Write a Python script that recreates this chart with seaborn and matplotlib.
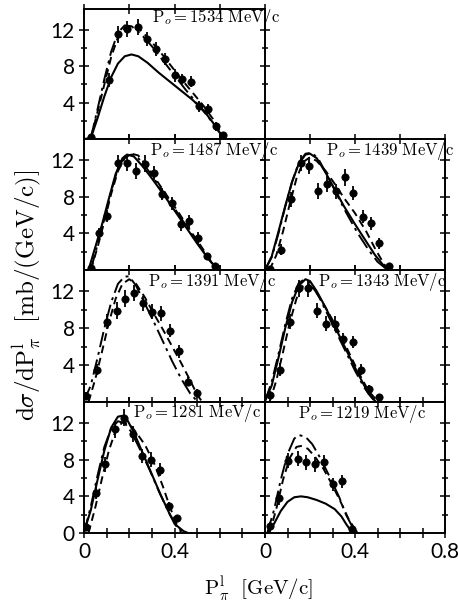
import numpy as np
import matplotlib
matplotlib.use("Agg")
import matplotlib.pyplot as plt
import seaborn as sns

sns.set_theme(style="white")
plt.rcParams["font.family"] = ["Lato", "DejaVu Sans"]
plt.rcParams["mathtext.fontset"] = "cm"

# Beam momentum of each panel (MeV/c)
momenta = [1534, 1487, 1439, 1391, 1343, 1281, 1219]

# Measured spectra: pion momentum (GeV/c), dsigma/dP (mb/(GeV/c)), error
data_x_1534 = [0.03, 0.11, 0.15, 0.19, 0.24, 0.28, 0.32, 0.36, 0.40, 0.435, 0.475, 0.51, 0.55, 0.585, 0.615]
data_y_1534 = [0.2, 6.5, 11.5, 12.1, 12.3, 11.0, 9.9, 8.8, 7.0, 6.6, 6.3, 3.6, 3.3, 1.4, 0.4]
data_e_1534 = [0.3, 0.8, 0.9, 0.9, 0.9, 0.8, 0.8, 0.7, 0.7, 0.6, 0.6, 0.6, 0.6, 0.5, 0.4]

data_x_1487 = [0.03, 0.068, 0.10, 0.152, 0.19, 0.23, 0.27, 0.308, 0.345, 0.39, 0.427, 0.463, 0.503, 0.545, 0.58]
data_y_1487 = [0.2, 4.0, 5.9, 11.7, 11.7, 10.8, 11.6, 10.6, 8.3, 7.3, 5.0, 5.3, 3.5, 1.5, 0.45]
data_e_1487 = [0.3, 0.6, 0.7, 0.9, 0.9, 0.9, 0.9, 0.8, 0.7, 0.7, 0.7, 0.7, 0.6, 0.4, 0.3]

data_x_1439 = [0.02, 0.071, 0.116, 0.16, 0.197, 0.234, 0.274, 0.316, 0.356, 0.393, 0.434, 0.471, 0.508, 0.55]
data_y_1439 = [0.1, 2.2, 7.7, 11.7, 11.4, 8.6, 9.4, 8.6, 10.1, 8.4, 5.8, 5.1, 2.9, 0.45]
data_e_1439 = [0.3, 0.6, 0.8, 0.9, 0.9, 0.9, 0.9, 0.8, 0.9, 0.8, 0.7, 0.7, 0.6, 0.3]

data_x_1391 = [0.01, 0.056, 0.10, 0.145, 0.182, 0.222, 0.26, 0.30, 0.34, 0.38, 0.42, 0.46, 0.50]
data_y_1391 = [0.66, 3.5, 8.7, 9.9, 11.2, 11.8, 10.7, 9.8, 9.6, 7.7, 5.5, 2.2, 1.0]
data_e_1391 = [0.4, 0.6, 0.8, 0.9, 0.9, 0.9, 0.8, 0.8, 0.8, 0.7, 0.7, 0.5, 0.4]

data_x_1343 = [0.02, 0.067, 0.111, 0.15, 0.19, 0.23, 0.271, 0.311, 0.348, 0.39, 0.427, 0.464, 0.505]
data_y_1343 = [0.77, 3.5, 8.7, 12.3, 12.3, 9.9, 8.5, 8.5, 6.8, 6.5, 3.5, 1.4, 0.5]
data_e_1343 = [0.4, 0.7, 0.8, 0.9, 0.9, 0.8, 0.8, 0.8, 0.7, 0.7, 0.6, 0.4, 0.3]

data_x_1281 = [0.01, 0.053, 0.093, 0.135, 0.175, 0.216, 0.256, 0.296, 0.335, 0.375, 0.412]
data_y_1281 = [0.7, 4.4, 7.5, 11.3, 12.6, 10.8, 8.4, 8.0, 6.9, 2.9, 1.6]
data_e_1281 = [0.4, 0.7, 0.8, 0.9, 0.9, 0.9, 0.8, 0.8, 0.7, 0.5, 0.4]

data_x_1219 = [0.02, 0.06, 0.10, 0.145, 0.182, 0.224, 0.264, 0.304, 0.342, 0.385]
data_y_1219 = [0.77, 3.8, 7.9, 8.1, 7.7, 7.5, 7.7, 5.3, 5.65, 0.4]
data_e_1219 = [0.4, 0.7, 0.8, 0.8, 0.8, 0.8, 0.8, 0.7, 0.7, 0.3]

# Model curves: solid, dashed and dash-dot
solid_x_1534 = [0.0, 0.03, 0.06, 0.09, 0.12, 0.15, 0.18, 0.21, 0.24, 0.28, 0.33, 0.38, 0.43, 0.48, 0.53, 0.57, 0.60, 0.62]
solid_y_1534 = [0.0, 0.1, 2.3, 4.7, 6.8, 8.3, 9.1, 9.3, 9.1, 8.4, 7.3, 6.3, 5.3, 4.3, 3.1, 1.8, 0.7, 0.1]
dash_x_1534 = [0.03, 0.06, 0.09, 0.12, 0.15, 0.18, 0.21, 0.24, 0.28, 0.33, 0.38, 0.43, 0.48, 0.53, 0.57, 0.60, 0.62]
dash_y_1534 = [0.1, 3.0, 6.0, 9.0, 11.2, 12.2, 12.4, 12.2, 11.2, 9.8, 8.2, 6.6, 5.1, 3.6, 2.2, 0.9, 0.1]
dashdot_x_1534 = [0.03, 0.06, 0.09, 0.12, 0.15, 0.18, 0.21, 0.25, 0.30, 0.35, 0.40, 0.45, 0.50, 0.55, 0.59, 0.62]
dashdot_y_1534 = [0.1, 3.3, 6.6, 9.6, 11.7, 12.5, 12.4, 11.6, 10.2, 8.6, 7.0, 5.4, 3.9, 2.4, 1.0, 0.1]

solid_x_1487 = [0.02, 0.05, 0.08, 0.11, 0.14, 0.17, 0.19, 0.22, 0.26, 0.30, 0.35, 0.40, 0.45, 0.50, 0.55, 0.59]
solid_y_1487 = [0.0, 2.5, 5.0, 7.8, 10.5, 12.2, 12.6, 12.4, 11.3, 10.0, 8.3, 6.5, 4.7, 2.9, 1.2, 0.1]
dash_x_1487 = [0.03, 0.06, 0.09, 0.12, 0.15, 0.18, 0.21, 0.24, 0.28, 0.32, 0.37, 0.42, 0.47, 0.52, 0.56, 0.59]
dash_y_1487 = [0.0, 2.5, 5.3, 8.3, 10.8, 12.2, 12.7, 12.5, 11.3, 9.8, 8.0, 6.2, 4.3, 2.5, 1.0, 0.1]
dashdot_x_1487 = [0.03, 0.06, 0.09, 0.12, 0.15, 0.18, 0.21, 0.24, 0.28, 0.32, 0.37, 0.42, 0.47, 0.52, 0.56, 0.59]
dashdot_y_1487 = [0.0, 2.8, 5.6, 8.6, 11.1, 12.4, 12.6, 12.2, 11.0, 9.6, 7.8, 6.0, 4.1, 2.3, 0.9, 0.1]

solid_x_1439 = [0.0, 0.03, 0.06, 0.09, 0.12, 0.15, 0.18, 0.20, 0.23, 0.27, 0.31, 0.35, 0.40, 0.45, 0.49, 0.53, 0.55]
solid_y_1439 = [0.0, 1.5, 4.2, 7.0, 9.6, 11.6, 12.6, 12.7, 12.2, 10.6, 8.8, 7.0, 5.0, 3.1, 1.6, 0.4, 0.1]
dash_x_1439 = [0.02, 0.05, 0.08, 0.11, 0.14, 0.17, 0.20, 0.23, 0.27, 0.31, 0.35, 0.40, 0.45, 0.49, 0.53, 0.55]
dash_y_1439 = [0.0, 1.6, 4.2, 7.2, 10.0, 11.8, 12.3, 11.9, 10.8, 9.4, 7.9, 6.2, 4.2, 2.3, 0.6, 0.1]
dashdot_x_1439 = [0.0, 0.03, 0.06, 0.09, 0.12, 0.15, 0.18, 0.21, 0.24, 0.28, 0.32, 0.36, 0.41, 0.46, 0.50, 0.54]
dashdot_y_1439 = [0.0, 1.4, 4.0, 6.9, 9.6, 11.7, 12.7, 12.8, 12.0, 10.2, 8.2, 6.3, 4.1, 2.2, 0.9, 0.1]

# the 1391 MeV/c panel shows only the dashed and dash-dot models
solid_x_1391 = []
solid_y_1391 = []
dash_x_1391 = [0.02, 0.05, 0.08, 0.11, 0.14, 0.17, 0.20, 0.23, 0.27, 0.31, 0.35, 0.39, 0.43, 0.47, 0.50, 0.52]
dash_y_1391 = [0.0, 2.5, 5.5, 8.6, 11.2, 12.8, 13.3, 12.8, 11.3, 9.5, 7.8, 6.0, 4.2, 2.3, 0.8, 0.1]
dashdot_x_1391 = [0.0, 0.03, 0.06, 0.09, 0.12, 0.15, 0.18, 0.20, 0.23, 0.27, 0.31, 0.35, 0.39, 0.43, 0.47, 0.50]
dashdot_y_1391 = [0.1, 1.8, 4.8, 8.0, 10.8, 12.8, 13.6, 13.6, 12.6, 10.6, 8.6, 6.5, 4.4, 2.5, 0.9, 0.1]

solid_x_1343 = [0.0, 0.03, 0.06, 0.09, 0.12, 0.15, 0.18, 0.20, 0.23, 0.27, 0.31, 0.35, 0.39, 0.43, 0.46, 0.49]
solid_y_1343 = [0.1, 1.8, 4.8, 8.0, 10.8, 12.6, 13.3, 13.1, 12.0, 10.2, 8.2, 6.2, 4.2, 2.3, 0.9, 0.1]
dash_x_1343 = [0.02, 0.05, 0.08, 0.11, 0.14, 0.17, 0.19, 0.22, 0.26, 0.30, 0.34, 0.38, 0.42, 0.46, 0.50]
dash_y_1343 = [0.0, 2.3, 5.4, 8.6, 11.2, 12.6, 12.8, 12.2, 10.6, 8.9, 7.1, 5.0, 3.0, 1.2, 0.1]
dashdot_x_1343 = [0.0, 0.03, 0.06, 0.09, 0.12, 0.15, 0.17, 0.20, 0.24, 0.28, 0.32, 0.36, 0.40, 0.44, 0.48, 0.50]
dashdot_y_1343 = [0.1, 2.2, 5.2, 8.4, 11.2, 12.9, 13.2, 12.9, 11.4, 9.4, 7.4, 5.4, 3.4, 1.6, 0.3, 0.0]

solid_x_1281 = [0.0, 0.03, 0.06, 0.09, 0.12, 0.15, 0.17, 0.19, 0.22, 0.26, 0.30, 0.34, 0.38, 0.41, 0.44, 0.46]
solid_y_1281 = [0.1, 2.5, 5.8, 9.0, 11.5, 12.7, 12.8, 12.4, 11.0, 8.7, 6.4, 4.1, 2.0, 0.8, 0.2, 0.0]
dash_x_1281 = [0.02, 0.05, 0.08, 0.11, 0.14, 0.17, 0.20, 0.23, 0.27, 0.31, 0.35, 0.38, 0.41, 0.43]
dash_y_1281 = [0.0, 2.8, 6.0, 9.0, 11.2, 12.1, 11.9, 11.0, 9.6, 7.6, 5.0, 2.8, 1.0, 0.2]
dashdot_x_1281 = [0.0, 0.03, 0.06, 0.09, 0.12, 0.15, 0.18, 0.21, 0.25, 0.29, 0.33, 0.37, 0.40, 0.43]
dashdot_y_1281 = [0.0, 2.9, 6.3, 9.4, 11.4, 12.2, 12.0, 11.0, 9.0, 6.9, 4.6, 2.5, 1.0, 0.1]

solid_x_1219 = [0.01, 0.04, 0.07, 0.10, 0.13, 0.16, 0.19, 0.23, 0.27, 0.31, 0.34, 0.36, 0.38, 0.40]
solid_y_1219 = [0.0, 1.0, 2.4, 3.4, 3.9, 4.0, 3.9, 3.6, 3.2, 2.6, 1.8, 1.0, 0.3, 0.0]
dash_x_1219 = [0.02, 0.05, 0.08, 0.11, 0.14, 0.16, 0.19, 0.22, 0.26, 0.30, 0.34, 0.37, 0.40, 0.42]
dash_y_1219 = [0.0, 2.6, 5.8, 8.2, 9.4, 9.5, 9.2, 8.4, 7.0, 5.2, 3.2, 1.6, 0.4, 0.0]
dashdot_x_1219 = [0.01, 0.04, 0.07, 0.10, 0.13, 0.15, 0.18, 0.21, 0.25, 0.29, 0.33, 0.36, 0.39, 0.41]
dashdot_y_1219 = [0.0, 2.5, 5.8, 8.6, 10.3, 10.7, 10.5, 9.7, 8.0, 6.0, 3.9, 2.0, 0.6, 0.1]

x_tick_values = [0.0, 0.1, 0.2, 0.3, 0.4, 0.5, 0.6, 0.7, 0.8]
x_tick_labels_left = ["0", "", "", "", "0.4", "", "", "", ""]
x_tick_labels_right = ["0", "", "", "", "0.4", "", "", "", "0.8"]

panels = [
    (1534, data_x_1534, data_y_1534, data_e_1534, solid_x_1534, solid_y_1534, dash_x_1534, dash_y_1534, dashdot_x_1534, dashdot_y_1534),
    (1487, data_x_1487, data_y_1487, data_e_1487, solid_x_1487, solid_y_1487, dash_x_1487, dash_y_1487, dashdot_x_1487, dashdot_y_1487),
    (1439, data_x_1439, data_y_1439, data_e_1439, solid_x_1439, solid_y_1439, dash_x_1439, dash_y_1439, dashdot_x_1439, dashdot_y_1439),
    (1391, data_x_1391, data_y_1391, data_e_1391, solid_x_1391, solid_y_1391, dash_x_1391, dash_y_1391, dashdot_x_1391, dashdot_y_1391),
    (1343, data_x_1343, data_y_1343, data_e_1343, solid_x_1343, solid_y_1343, dash_x_1343, dash_y_1343, dashdot_x_1343, dashdot_y_1343),
    (1281, data_x_1281, data_y_1281, data_e_1281, solid_x_1281, solid_y_1281, dash_x_1281, dash_y_1281, dashdot_x_1281, dashdot_y_1281),
    (1219, data_x_1219, data_y_1219, data_e_1219, solid_x_1219, solid_y_1219, dash_x_1219, dash_y_1219, dashdot_x_1219, dashdot_y_1219),
]

# grid slot (row, column) of each panel, and where its label starts (pixels)
slots = [(0, 0), (1, 0), (1, 1), (2, 0), (2, 1), (3, 0), (3, 1)]
label_pos = [(152, 18), (150, 151), (326, 151), (148, 282), (318, 282), (133, 413), (298, 414)]

W, H = 458, 603
fig = plt.figure(figsize=(W / 100, H / 100), dpi=100)
fig.patch.set_facecolor("white")

col_edges = [(84, 265), (265, 445)]
row_edges = [(9, 139), (139, 270), (270, 402), (402, 533)]

ink = "black"
dash_style = (0, (4, 2.5))
dashdot_style = (0, (8, 2.5, 1.5, 2.5))

for (p, dx, dy, de, sx, sy, ddx, ddy, dcx, dcy), (r, c), (lx, ly) in zip(panels, slots, label_pos):
    x0, x1 = col_edges[c]
    y0, y1 = row_edges[r]
    ax = fig.add_axes([x0 / W, 1 - y1 / H, (x1 - x0) / W, (y1 - y0) / H])
    ax.set_facecolor("white")

    if len(sx):
        sns.lineplot(x=sx, y=sy, ax=ax, color=ink, lw=1.5, sort=False, estimator=None)
    sns.lineplot(x=ddx, y=ddy, ax=ax, color=ink, lw=1.4, sort=False, estimator=None, linestyle=dash_style)
    sns.lineplot(x=dcx, y=dcy, ax=ax, color=ink, lw=1.4, sort=False, estimator=None, linestyle=dashdot_style)
    ax.errorbar(dx, dy, yerr=de, fmt="none", ecolor=ink, elinewidth=1.3, capsize=0, zorder=3)
    sns.scatterplot(x=dx, y=dy, ax=ax, color=ink, s=28, marker="o", edgecolor=ink, linewidth=0.5, zorder=4)

    ax.set_xlim(0, 0.8)
    ax.set_ylim(0, 14.3)
    ax.set_xlabel("")
    ax.set_ylabel("")

    bottom_row = (r == 3)
    if bottom_row:
        ax.set_xticks(x_tick_values)
        ax.set_xticklabels(x_tick_labels_right if c == 1 else x_tick_labels_left)
    else:
        ax.set_xticks([0.0, 0.2, 0.4, 0.6, 0.8])
        ax.set_xticklabels([])
    if c == 0:
        if bottom_row:
            ax.set_yticks([0, 4, 8, 12])
            ax.set_yticklabels(["0", "4", "8", "12"])
        else:
            ax.set_yticks([4, 8, 12])
            ax.set_yticklabels(["4", "8", "12"])
    else:
        ax.set_yticks([4, 8, 12])
        ax.set_yticklabels([])
    ax.set_yticks([2, 6, 10], minor=True)

    ax.tick_params(which="both", direction="inout", top=True, right=True,
                   bottom=True, left=True, color=ink, width=1.1)
    ax.tick_params(which="major", length=7, labelsize=15, labelcolor=ink, pad=3)
    ax.tick_params(which="minor", length=4)
    for sp in ax.spines.values():
        sp.set_color(ink)
        sp.set_linewidth(1.4)

    fig.text(lx / W, 1 - ly / H, r"$\mathrm{P}_{o} = 1534\ \mathrm{MeV/c}$".replace("1534", str(p)),
             fontsize=12, color=ink, ha="left", va="center")

fig.text(27 / W, 1 - 295 / H,
         r"$\mathrm{d}\sigma/\mathrm{dP}_{\pi}^{\mathrm{l}}\ \ [\mathrm{mb/(GeV/c)}]$",
         rotation=90, fontsize=18, color=ink, ha="center", va="center")
fig.text(258 / W, 1 - 589 / H, r"$\mathrm{P}_{\pi}^{\mathrm{l}}\ \ [\mathrm{GeV/c}]$",
         fontsize=15, color=ink, ha="center", va="center")

fig.savefig("out.png", dpi=100, facecolor="white")
